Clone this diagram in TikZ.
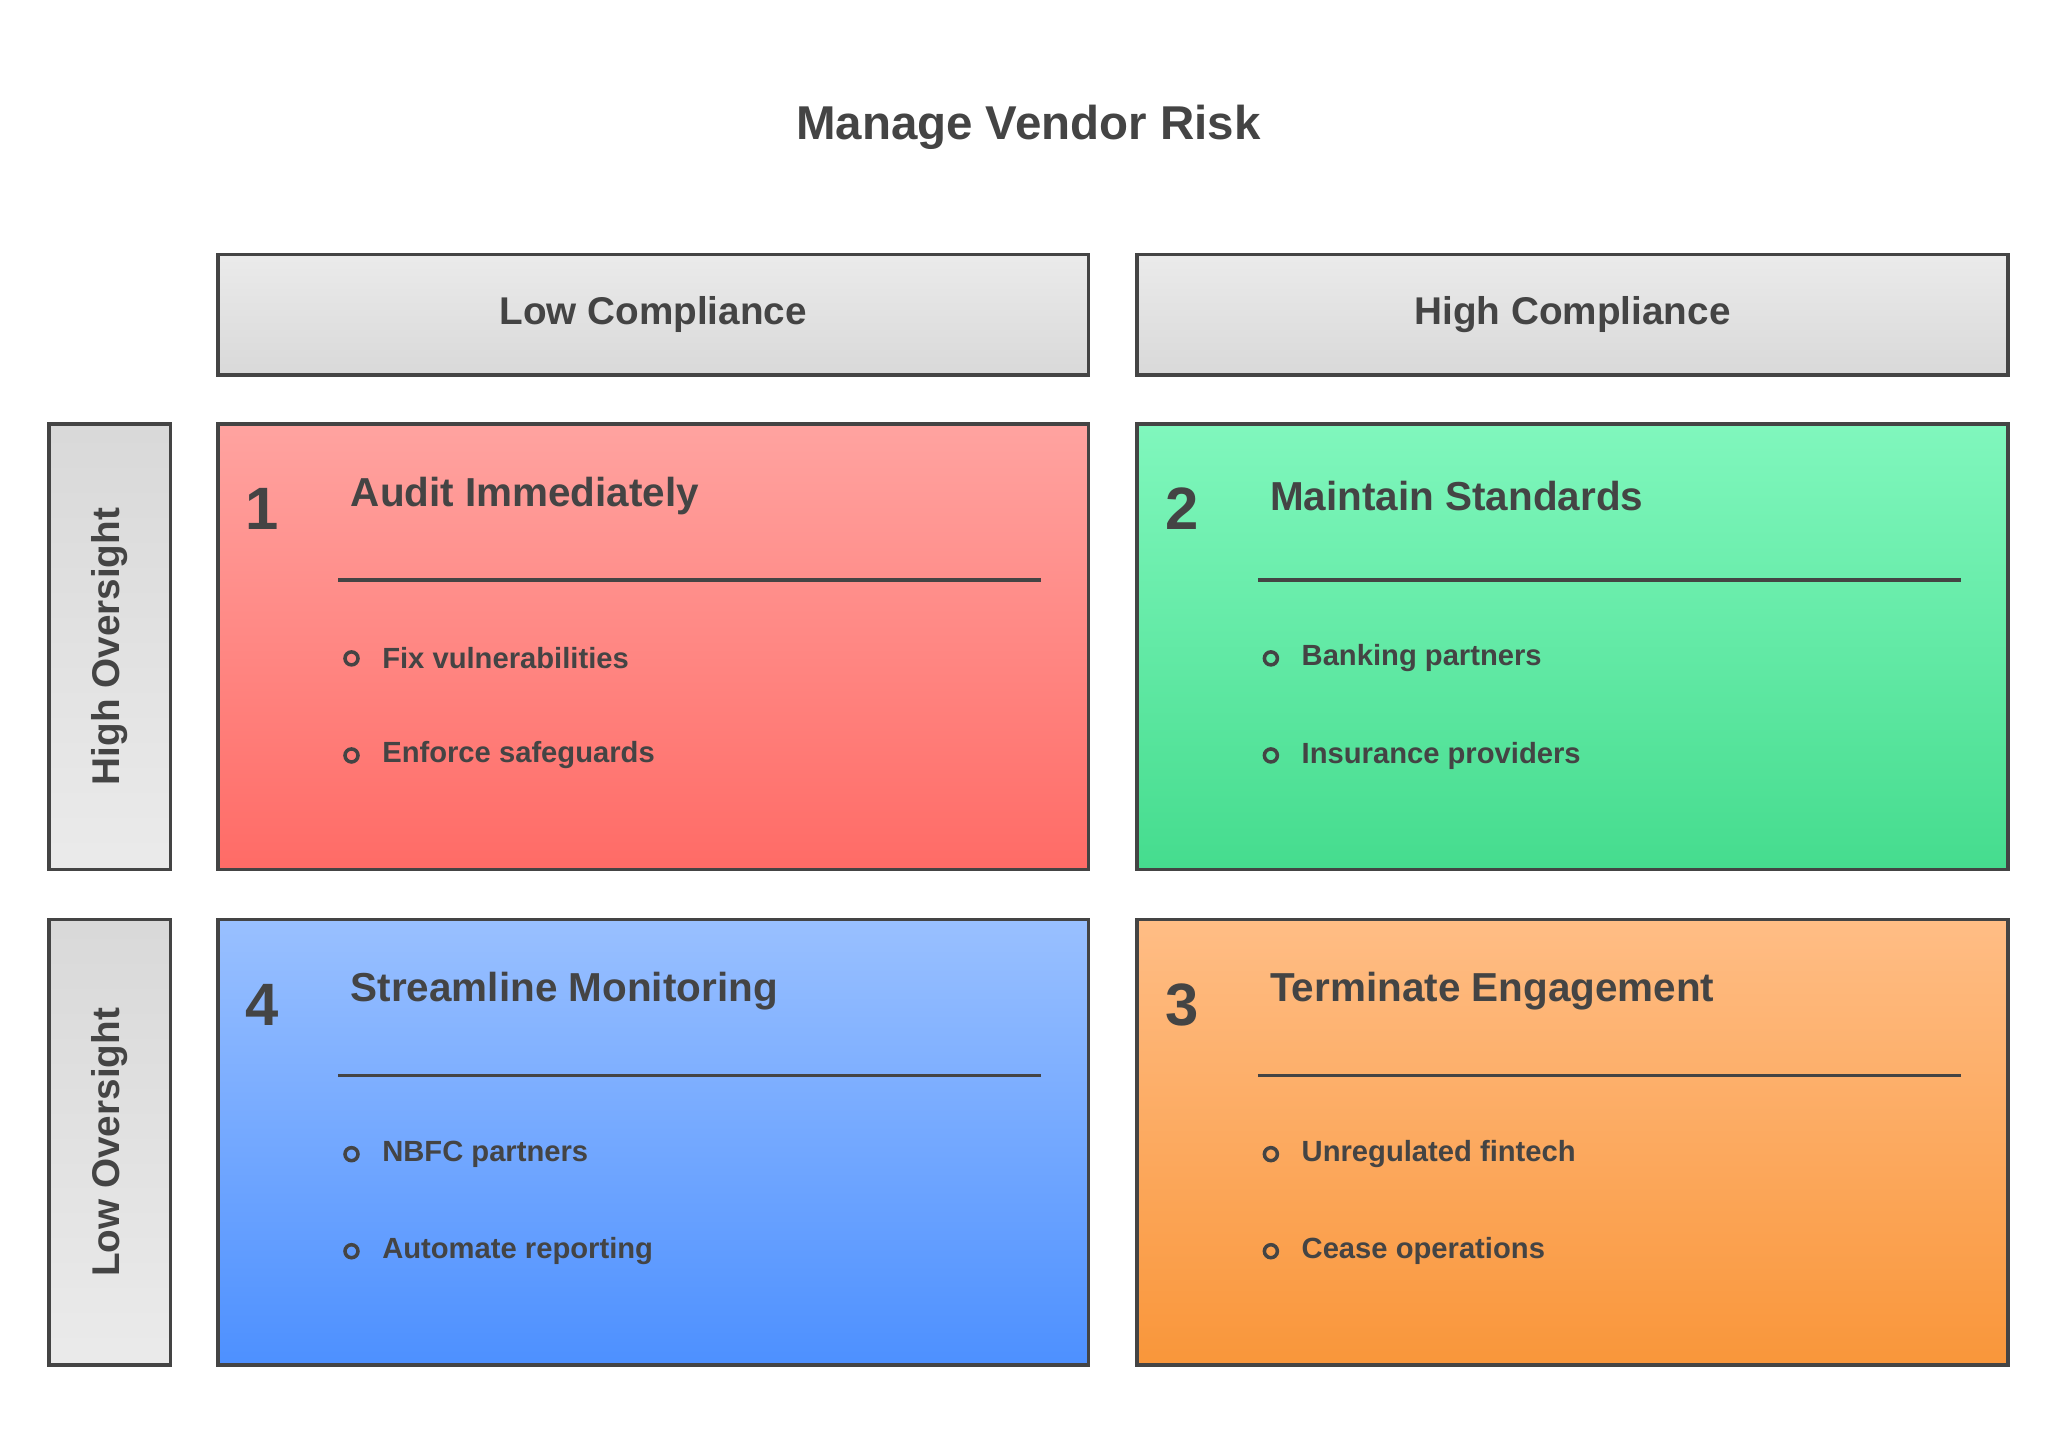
\documentclass[tikz,border=0pt]{standalone}
\usepackage{fontspec}
\setmainfont{Liberation Sans}
\usepackage{tikz}
\usetikzlibrary{positioning}
\definecolor{ink}{HTML}{444444}
\begin{document}
\begin{tikzpicture}[x=0.0131cm,y=-0.0131cm, draw=ink, text=ink, font=\bfseries]
	\tikzstyle{h-node}=[draw=ink,line width=1.1pt,minimum width=8.7cm,minimum height=1.205cm,top color=black!8,bottom color=black!15,font=\bfseries\fontsize{11}{13}\selectfont]
	\tikzstyle{v-node}=[draw=ink,line width=1.1pt,minimum width=4.454cm,minimum height=1.218cm,rotate=90,top color=black!15,bottom color=black!8,font=\bfseries\fontsize{11}{13}\selectfont]
	\tikzstyle{q-node}=[draw=ink,line width=1.1pt,minimum width=8.7cm,minimum height=4.454cm]
	\tikzstyle{num}=[font=\bfseries\fontsize{17}{19}\selectfont]
	\tikzstyle{qtitle}=[anchor=west,font=\bfseries\fontsize{11.5}{13}\selectfont]
	\tikzstyle{item}=[anchor=west,font=\bfseries\fontsize{8.3}{10}\selectfont]
	\tikzstyle{dot}=[circle,draw=ink,line width=1pt,inner sep=0pt,minimum size=0.13cm]
	\useasboundingbox (0,0) rectangle (1560,1110);
	% title
	\node[font=\bfseries\fontsize{13.5}{16}\selectfont] (title) at (784,97) {Manage Vendor Risk};
	% headers
	\node[h-node] (lowc) at (498,240) {Low Compliance};
	\node[h-node] (highc) at (1199,240) {High Compliance};
	\node[v-node] (higho) at (83.5,493) {High Oversight};
	\node[v-node] (lowo) at (83.5,871) {Low Oversight};
	% quadrants
	\node[q-node,top color={rgb,255:red,255;green,163;blue,160},bottom color={rgb,255:red,255;green,107;blue,102}] (q1) at (498,493) {};
	\node[q-node,top color={rgb,255:red,128;green,247;blue,189},bottom color={rgb,255:red,69;green,220;blue,142}] (q2) at (1199,493) {};
	\node[q-node,top color={rgb,255:red,153;green,192;blue,255},bottom color={rgb,255:red,77;green,144;blue,255}] (q4) at (498,871) {};
	\node[q-node,top color={rgb,255:red,255;green,189;blue,133},bottom color={rgb,255:red,249;green,150;blue,58}] (q3) at (1199,871) {};
	% quadrant texts
	\foreach \qx/\qy/\n/\ttl/\ia/\ib in {
		0/0/1/Audit Immediately/Fix vulnerabilities/Enforce safeguards,
		701/0/2/Maintain Standards/Banking partners/Insurance providers,
		0/378/4/Streamline Monitoring/NBFC partners/Automate reporting,
		701/378/3/Terminate Engagement/Unregulated fintech/Cease operations}{
		\node[num] (n\n) at (200+\qx,388+\qy) {\n};
		\node[qtitle] (t\n) at (258+\qx,378+\qy) {\ttl};
		\coordinate (la\n) at (258+\qx,442+\qy);
		\coordinate (lb\n) at (794+\qx,442+\qy);
		\draw[line width=1.1pt] (la\n) -- (lb\n);
		\node[dot] (da\n) at (268+\qx,502+\qy) {};
		\node[item] (ia\n) at (282+\qx,502+\qy) {\ia};
		\node[dot] (db\n) at (268+\qx,576+\qy) {};
		\node[item] (ib\n) at (282+\qx,576+\qy) {\ib};
	}
\end{tikzpicture}
\end{document}
